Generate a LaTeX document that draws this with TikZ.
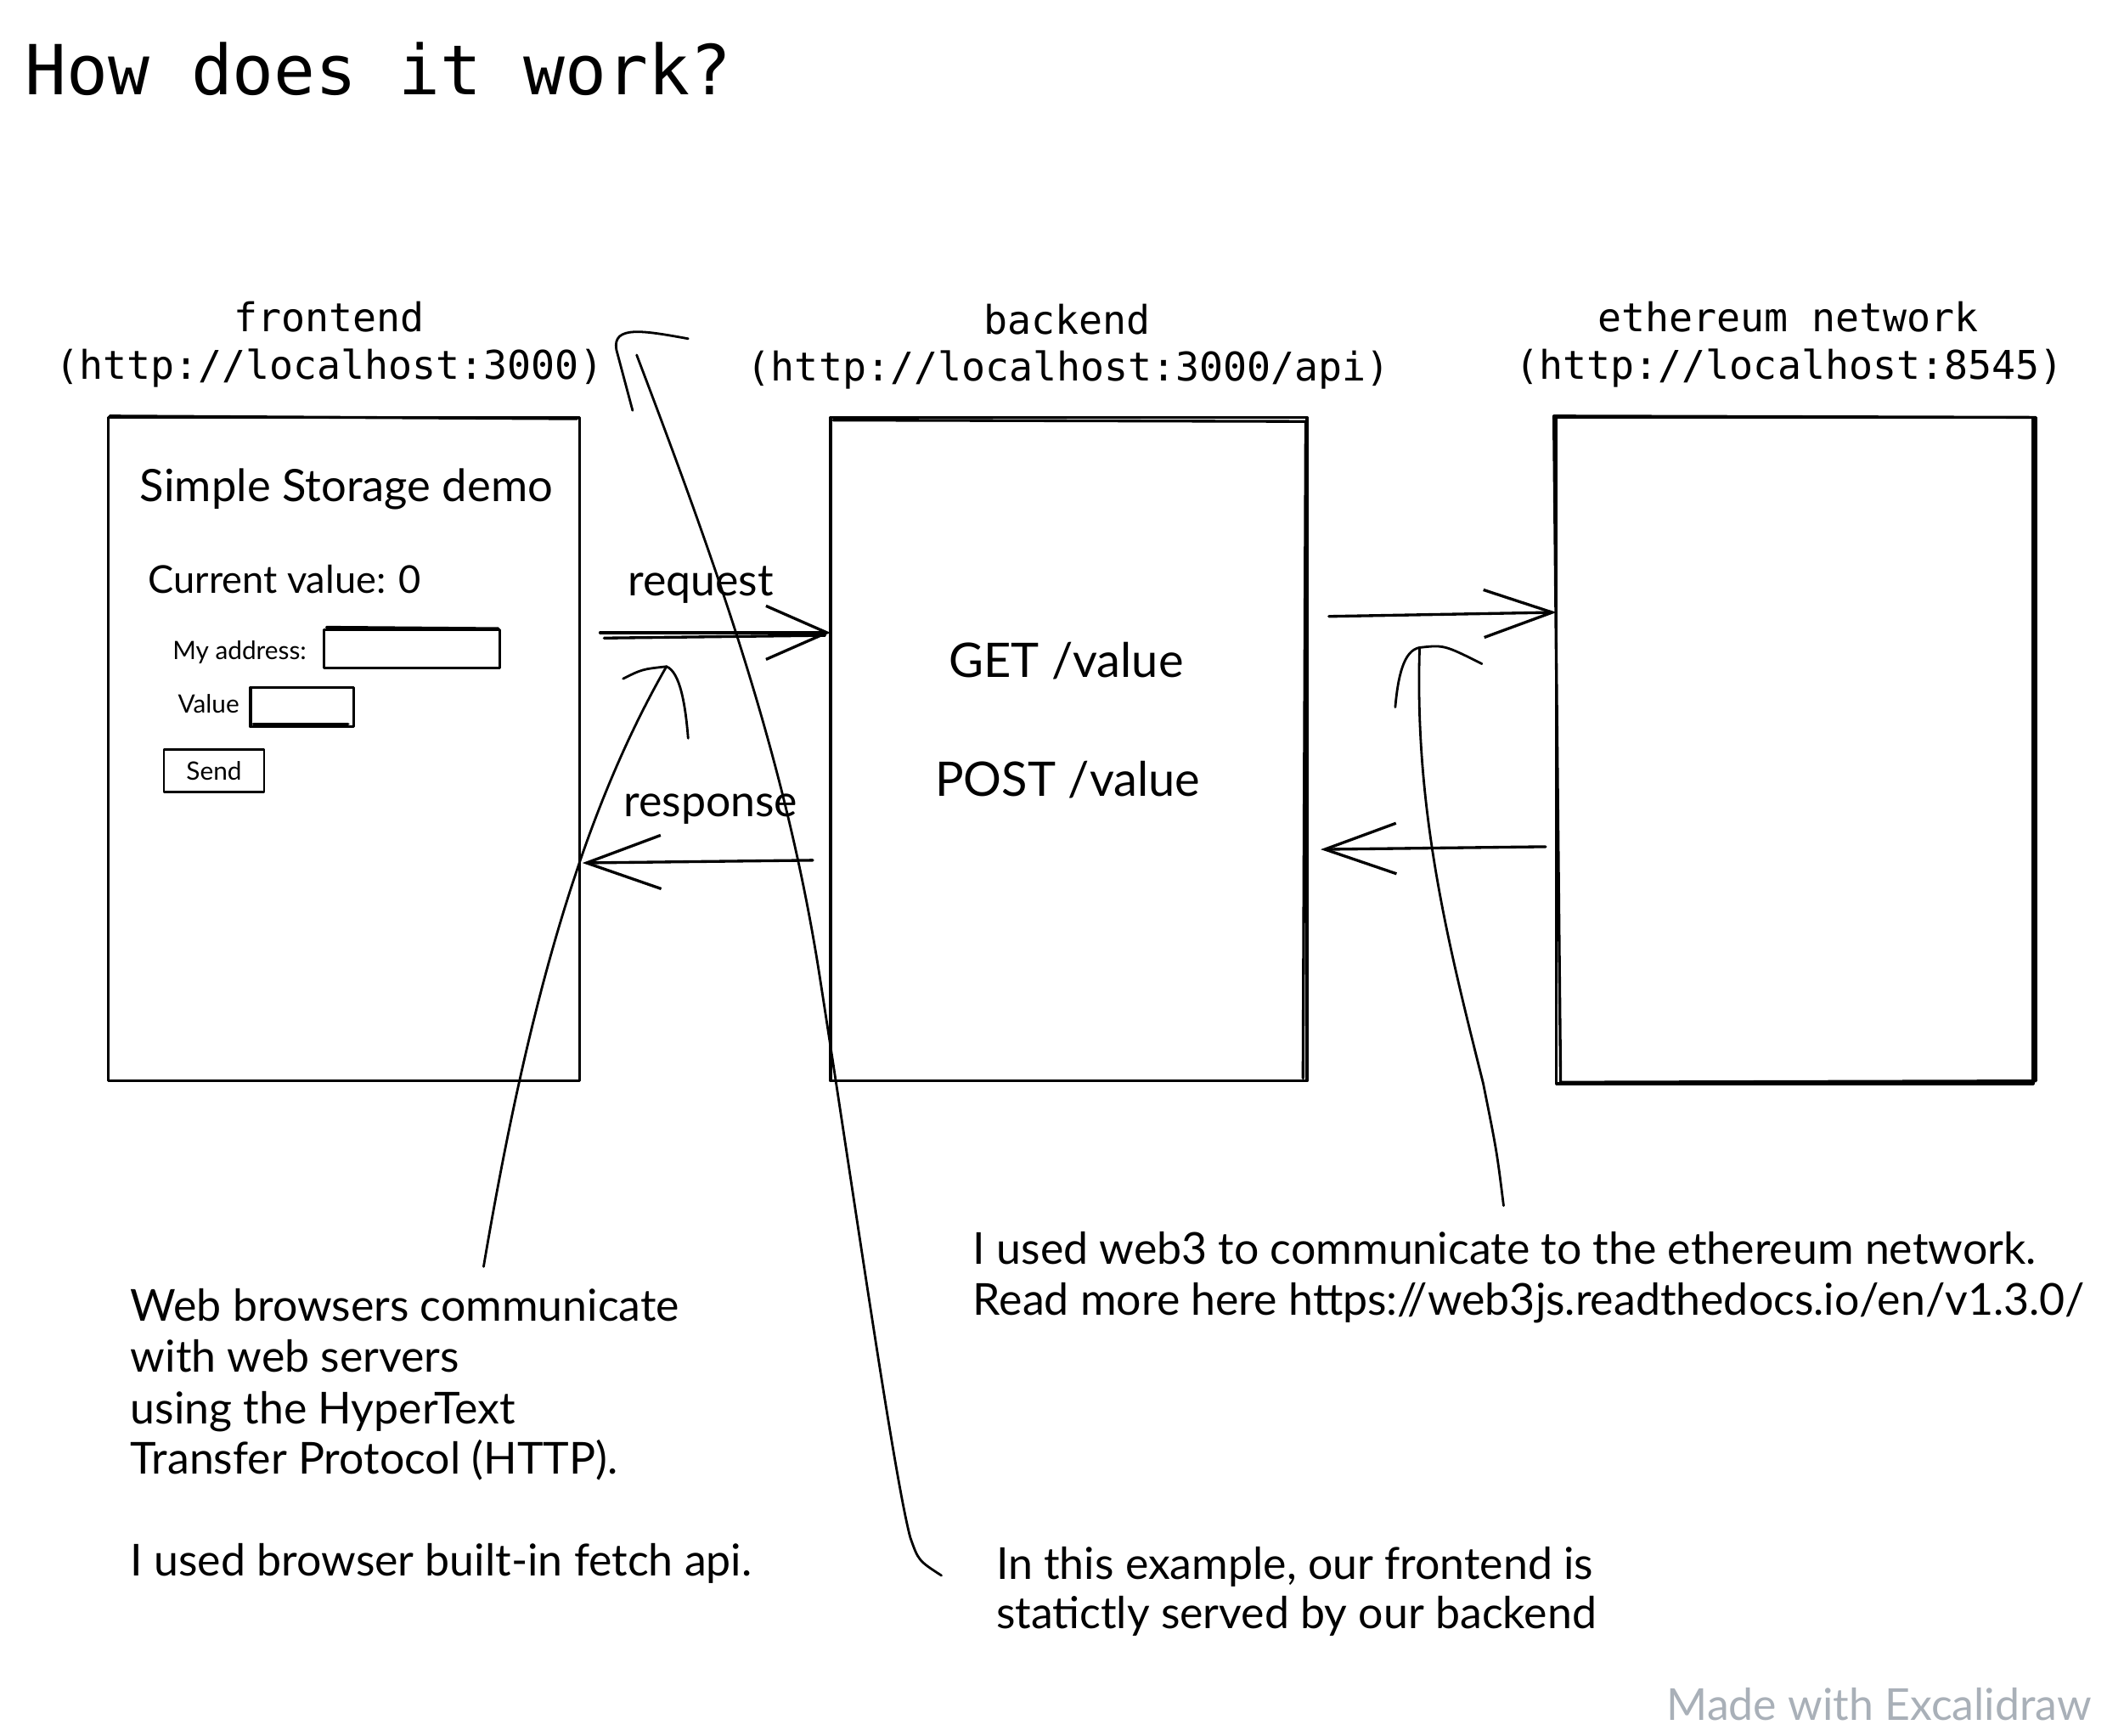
\documentclass[tikz,border=0pt]{standalone}
\usepackage{fontspec}
\newfontfamily\codefont{DejaVu Sans Mono}
\newfontfamily\handfont{Lato}
\usetikzlibrary{arrows.meta}
\definecolor{wmgray}{HTML}{A9B0B8}
\begin{document}
\begin{tikzpicture}[x=0.016cm,y=-0.016cm,
  sketch/.style={line width=0.95pt, line cap=round, line join=round},
  lead/.style={line width=0.8pt, line cap=round, line join=round},
  box/.style={draw, sketch, inner sep=0, outer sep=0, rectangle},
  codelbl/.style={font=\codefont\fontsize{13.3}{16}\selectfont, inner sep=0, anchor=base},
  hand/.style={font=\handfont\fontsize{14.8}{17}\selectfont, inner sep=0, anchor=base west},
  handsm/.style={font=\handfont\fontsize{8.5}{10}\selectfont, inner sep=0, anchor=base west},
  handmd/.style={font=\handfont\fontsize{12.9}{15}\selectfont, inner sep=0, anchor=base west},
  handlg/.style={font=\handfont\fontsize{16}{19}\selectfont, inner sep=0, anchor=base west},
  barbA/.style={-{Straight Barb[length=20.5pt,width=18pt,line width=0.95pt]}},
  barbB/.style={-{Straight Barb[length=25pt,width=18pt,line width=0.95pt]}},
  barbC/.style={-{Straight Barb[length=23pt,width=16pt,line width=0.95pt]}},
  barbD/.style={-{Straight Barb[length=24pt,width=17pt,line width=0.95pt]}}
]
\useasboundingbox (0,0) rectangle (1568,1281);

% title
\node[font=\codefont\fontsize{23.2}{28}\selectfont, inner sep=0, anchor=base west] (title) at (18,70) {How does it work?};

% column labels
\node[codelbl] (feT) at (243,245) {frontend};
\node[codelbl] (feU) at (243,280) {(http://localhost:3000)};
\node[codelbl] (beT) at (788,247) {backend};
\node[codelbl] (beU) at (789,281) {(http://localhost:3000/api)};
\node[codelbl] (ethT) at (1320,245) {ethereum network};
\node[codelbl] (ethU) at (1321,280) {(http://localhost:8545)};

% boxes
\node[box, minimum width=5.568cm, minimum height=7.84cm] (fe) at (254,553) {};
\draw[sketch] ([shift={(1,-1)}]fe.north west) -- ([shift={(-2,1)}]fe.north east);
\node[box, minimum width=5.632cm, minimum height=7.84cm] (be) at (789,553) {};
\draw[sketch] ([shift={(2,2)}]be.north west) -- ([shift={(-1,3)}]be.north east) -- ([shift={(-3,-2)}]be.south east);
\node[box, minimum width=5.632cm, minimum height=7.872cm] (eth) at (1325,554) {};
\draw[sketch] ([shift={(-2,-1)}]eth.north west) -- ([shift={(2,0)}]eth.north east) -- ([shift={(2,-2)}]eth.south east) -- ([shift={(3,-1)}]eth.south west) -- cycle;

% frontend mock UI
\node[font=\handfont\fontsize{15}{18}\selectfont, inner sep=0, anchor=base west] (sstitle) at (103,370) {Simple Storage demo};
\node[handmd] (curval) at (109,438) {Current value: 0};
\node[handsm] (addrlbl) at (127,487) {My address:};
\node[box, minimum width=2.08cm, minimum height=0.448cm] (addrin) at (304,479) {};
\draw[sketch] ([shift={(2,-2)}]addrin.north west) -- ([shift={(-1,-1)}]addrin.north east);
\node[handsm] (vallbl) at (131,526) {Value};
\node[box, minimum width=1.216cm, minimum height=0.464cm] (valin) at (223,522) {};
\draw[sketch] ([shift={(2,-2)}]valin.south west) -- ([shift={(-4,-2)}]valin.south east);
\node[box, line width=0.8pt, minimum width=1.184cm, minimum height=0.496cm] (send) at (158,569) {};
\node[font=\handfont\fontsize{8.5}{10}\selectfont, inner sep=0] (sendlbl) at (send.center) {Send};

% request / response
\coordinate (reqS) at (443,467);
\draw[sketch, barbA] (reqS) -- (reqS -| be.west);
\draw[sketch] ([shift={(3,4)}]reqS) -- ([shift={(-4,2)}]reqS -| be.west);
\node[hand] (reqlbl) at (463,440) {request};
\coordinate (resS) at (600,635);
\draw[sketch, barbB] (resS) -- ([shift={(2,2)}]resS -| fe.east);
\node[hand] (reslbl) at (460,603) {response};

% backend endpoints
\node[handlg] (get) at (700,500) {GET /value};
\node[handlg] (post) at (690,588) {POST /value};

% backend <-> ethereum
\coordinate (b2eS) at (981,455);
\draw[sketch, barbC] (b2eS) -- ([shift={(0,-3)}]b2eS -| eth.west);
\coordinate (e2bS) at (1141,625);
\draw[sketch, barbD] (e2bS) -- ([shift={(10,2)}]e2bS -| be.east);

% notes
\node[hand] (n1a) at (96,975) {Web browsers communicate};
\node[hand] (n1b) at (96,1013) {with web servers};
\node[hand] (n1c) at (96,1051) {using the HyperText};
\node[hand] (n1d) at (96,1088) {Transfer Protocol (HTTP).};
\node[hand] (n1e) at (96,1163) {I used browser built-in fetch api.};

\node[hand] (n2a) at (718,933) {I used web3 to communicate to the ethereum network.};
\node[hand] (n2b) at (718,971) {Read more here https://web3js.readthedocs.io/en/v1.3.0/};

\node[hand] (n3a) at (735,1166) {In this example, our frontend is};
\node[hand] (n3b) at (735,1202) {statictly served by our backend};

\node[hand, text=wmgray] (wm) at (1230,1270) {Made with Excalidraw};

% leader 1: browser note -> request/response
\coordinate (l1s) at (357,935);
\coordinate (l1e) at (492,492);
\draw[lead] (l1s) .. controls (390,740) and (430,600) .. (l1e);
\draw[lead] (460,501) .. controls (474,494) .. (l1e);
\draw[lead] (l1e) .. controls (502,496) and (506,520) .. (508,545);

% leader 2: static serving note -> frontend
\coordinate (l2s) at (695,1163);
\coordinate (l2e) at (470,262);
\draw[lead] (l2e) .. controls (530,420) and (580,560) .. (605,720)
  .. controls (630,880) and (660,1090) .. (672,1135)
  .. controls (678,1152) .. (l2s);
\draw[lead] (508,250) .. controls (475,244) and (452,240) .. (455,258) -- (467,303);

% leader 3: web3 note -> backend/ethereum
\coordinate (l3s) at (1110,890);
\coordinate (l3e) at (1048,478);
\draw[lead] (l3e) .. controls (1044,600) and (1070,700) .. (1095,800) .. controls (1105,850) .. (l3s);
\draw[lead] (l3e) .. controls (1036,480) and (1032,500) .. (1030,522);
\draw[lead] (l3e) .. controls (1066,476) .. (1094,490);
\end{tikzpicture}
\end{document}
